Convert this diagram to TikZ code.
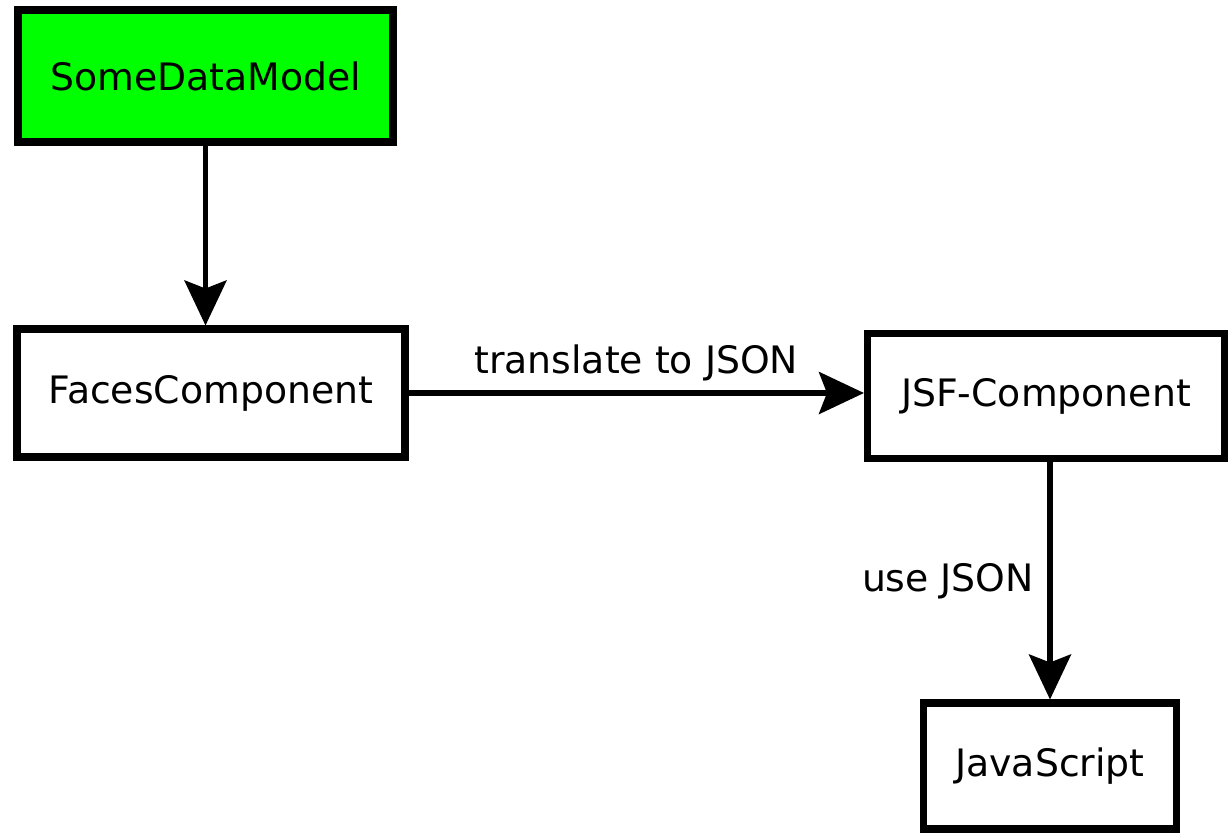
\documentclass[tikz,border=0pt]{standalone}
\usepackage{fontspec}
\setmainfont{DejaVu Sans}
\usetikzlibrary{arrows.meta}
\begin{document}
\begin{tikzpicture}[
x=0.2mm,y=-0.2mm,
every node/.style={font=\fontsize{21.5}{26}\selectfont},
box/.style={draw,line width=4pt,inner sep=0pt},
link/.style={line width=3pt,-{Stealth[length=9mm,width=8.4mm,inset=1.6mm]}}
]
\useasboundingbox (0,0) rectangle (1228,832);
\node[box,fill=green,minimum width=75mm,minimum height=26.4mm] (model) at (205.5,76) {SomeDataModel};
\node[box,minimum width=77.6mm,minimum height=25.6mm] (faces) at (211,393) {FacesComponent};
\node[box,minimum width=71.4mm,minimum height=25mm] (jsf) at (1046,396) {JSF-Component};
\node[box,minimum width=50.6mm,minimum height=25.2mm] (js) at (1050,766) {JavaScript};
\draw[link] (model.south) -- (model.south |- faces.north);
\draw[link] (faces.east) -- node[above=0.6mm] {translate to JSON} (faces.east -| jsf.west);
\draw[link] (js.north |- jsf.south) -- node[left=1.5mm] {use JSON} (js.north);
\end{tikzpicture}
\end{document}
